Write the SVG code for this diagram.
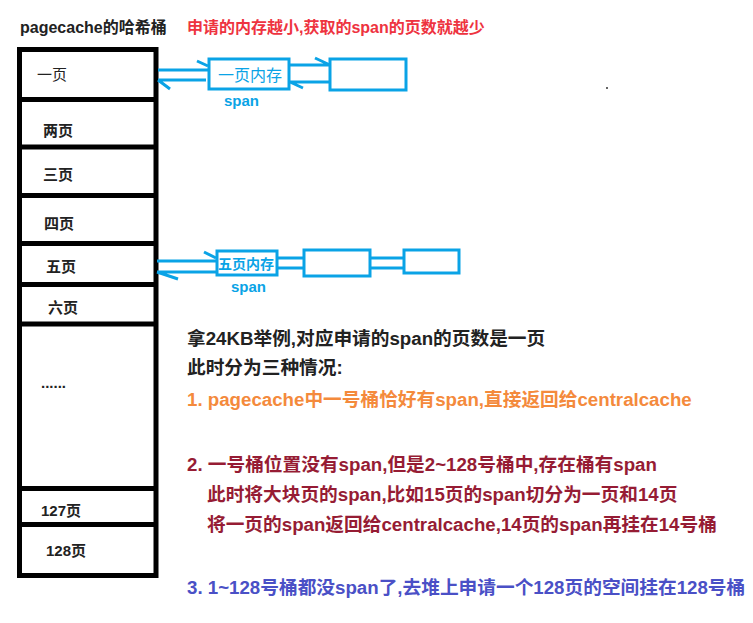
<svg xmlns="http://www.w3.org/2000/svg" width="753" height="623" viewBox="0 0 753 623">
<style>
text{font-family:"Liberation Sans","Noto Sans CJK SC",sans-serif;font-weight:bold}
.cell{font-size:15px;fill:#222}
.t{font-size:18.7px}
.b{fill:none;stroke:#0aa3e6;stroke-width:3}
.bl{stroke:#0aa3e6;stroke-width:3;fill:none}
.bt{fill:#0aa3e6;font-size:15px}
.k{stroke:#000;stroke-width:5}
</style>
<rect width="753" height="623" fill="#fff"/>
<text x="20" y="33" style="font-size:16px" fill="#222">pagecache的哈希桶</text>
<text x="187" y="33" style="font-size:16px" fill="#ee3340">申请的内存越小,获取的span的页数就越少</text>
<g id="buckets">
<rect x="19.5" y="49.5" width="136.5" height="526" fill="none" class="k"/>
<line x1="19" y1="99.5" x2="157" y2="99.5" class="k"/>
<line x1="19" y1="147" x2="157" y2="147" class="k"/>
<line x1="19" y1="195.5" x2="157" y2="195.5" class="k"/>
<line x1="19" y1="243.5" x2="157" y2="243.5" class="k"/>
<line x1="19" y1="284.5" x2="157" y2="284.5" class="k"/>
<line x1="19" y1="324" x2="157" y2="324" class="k"/>
<line x1="19" y1="488.5" x2="157" y2="488.5" class="k"/>
<line x1="19" y1="524.5" x2="157" y2="524.5" class="k"/>
<text class="cell" x="37" y="80" style="font-weight:normal">一页</text>
<text class="cell" x="43" y="136">两页</text>
<text class="cell" x="43" y="180">三页</text>
<text class="cell" x="44" y="229">四页</text>
<text class="cell" x="46" y="272">五页</text>
<text class="cell" x="48" y="313">六页</text>
<text class="cell" x="41" y="388">......</text>
<text class="cell" x="41" y="516">127页</text>
<text class="cell" x="46" y="556">128页</text>
</g>
<g id="span1">
<rect x="209" y="59" width="80" height="30" class="b"/>
<text class="bt" x="218" y="81" style="font-weight:normal;font-size:16px">一页内存</text>
<rect x="330" y="59" width="76" height="31" class="b"/>
<text class="bt" x="224" y="106">span</text>
</g>
<g id="span5">
<rect x="217" y="251" width="60" height="24" class="b"/>
<text class="bt" x="218" y="269" style="font-size:14px">五页内存</text>
<rect x="304" y="250" width="66" height="26" class="b"/>
<rect x="404" y="250" width="55" height="23" class="b"/>
<text class="bt" x="231" y="292">span</text>
</g>
<g id="connectors" class="bl">
<path d="M158 70H208M197 61L208 66M158 80H206M158 80L170 89"/>
<path d="M290 65H330M315 58L330 65M290 82H330M290 82L303 88"/>
<path d="M157 261H216M204 252L216 258M157 272H216M157 272L178 279"/>
<path d="M278 258H304M278 268H304"/>
<path d="M370 258H404M370 268H404"/>
</g>
<circle cx="607" cy="88" r="1" fill="#333"/>
<g id="notes">
<text class="t" x="187" y="345" fill="#222">拿24KB举例,对应申请的span的页数是一页</text>
<text class="t" x="187" y="374" fill="#222">此时分为三种情况:</text>
<text class="t" x="187" y="406" fill="#f48a3c">1. pagecache中一号桶恰好有span,直接返回给centralcache</text>
<text class="t" x="187" y="471" fill="#961c34">2. 一号桶位置没有span,但是2~128号桶中,存在桶有span</text>
<text class="t" x="207" y="501" fill="#961c34">此时将大块页的span,比如15页的span切分为一页和14页</text>
<text class="t" x="207" y="531" fill="#961c34">将一页的span返回给centralcache,14页的span再挂在14号桶</text>
<text class="t" x="187" y="594" fill="#4a50c6">3. 1~128号桶都没span了,去堆上申请一个128页的空间挂在128号桶</text>
</g>
</svg>
